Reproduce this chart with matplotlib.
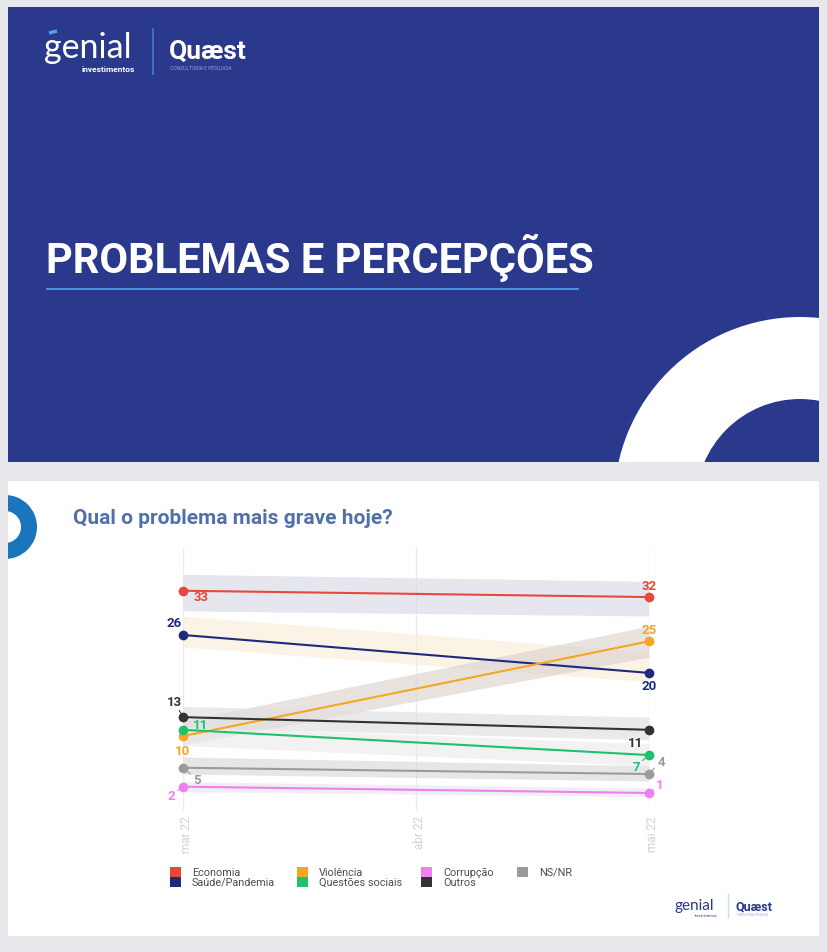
import numpy as np
import matplotlib
matplotlib.use("Agg")
import matplotlib.pyplot as plt
import matplotlib.transforms as mtransforms
from matplotlib.patches import Rectangle, Wedge

plt.rcParams['font.family'] = ['Roboto', 'DejaVu Sans']

# data
months = ['mar 22', 'abr 22', 'mai 22']
month_pos = [0, 1, 2]
poll_pos = [0, 2]

series = ['Economia', 'Saúde/Pandemia', 'Violência', 'Questões sociais',
          'Corrupção', 'Outros', 'NS/NR']
values_mar = [33, 26, 10, 11, 2, 13, 5]
values_mai = [32, 20, 25, 7, 1, 11, 4]
# shaded band (margin) around each line
band_lo_mar = [29.8, 24.1, 8.6, 8.5, 1.2, 11.4, 4.0]
band_hi_mar = [35.6, 29.0, 12.4, 11.6, 2.8, 14.7, 6.7]
band_lo_mai = [29.0, 18.6, 22.5, 5.3, 0.4, 9.4, 2.9]
band_hi_mai = [34.5, 23.3, 27.4, 8.8, 1.8, 13.0, 5.3]

line_colors = ['#e8473b', '#1f2a7c', '#f6a623', '#1ec26e', '#ee80ef', '#333333', '#9b9b9b']
band_colors = ['#d9dbe6', '#f9eed9', '#dcd4ce', '#ebebeb', '#e9e7ee', '#e0e0e0', '#d9d9d9']

# label offsets in pixels (dx, dy) and whether a leader line is drawn
offs_mar = [(18, -6), (-9, 12), (0, -14), (18, 5), (-12, -9), (-9, 16), (14, -12)]
offs_mai = [(0, 12), (0, -13), (0, 12), (-13, -11), (11, 8), (-13, -13), (12, 13)]
lead_mar = [False, False, False, False, True, True, True]
lead_mai = [False, False, False, True, True, False, True]

W, H = 828, 953
fig = plt.figure(figsize=(W / 100, H / 100), dpi=100)
fig.patch.set_facecolor('#e8e8ec')

bg = fig.add_axes([0, 0, 1, 1])
bg.set_xlim(0, W)
bg.set_ylim(H, 0)
bg.axis('off')

navy = '#2b398c'

# top slide
top = Rectangle((8, 8), 811, 455, facecolor=navy, edgecolor='none', zorder=1)
bg.add_patch(top)
ring = Wedge((800, 504), 186, 0, 360, width=82, facecolor='white', edgecolor='none', zorder=2)
bg.add_patch(ring)
ring.set_clip_path(top)

bg.text(44, 58, 'genial', fontsize=24.5, color='white', family='Lato', va='baseline', zorder=3)
bg.plot([49, 57], [34, 32], color='#4aa3e8', lw=2.5, solid_capstyle='butt', zorder=3)
bg.text(135, 72, 'investimentos', fontsize=6.0, color='white', fontweight='bold',
        ha='right', va='baseline', zorder=3)
bg.plot([153, 153], [30, 75], color='#3f7fd0', lw=1.2, zorder=3)
bg.text(169, 59, 'Quæst', fontsize=19, color='white', fontweight='bold', va='baseline', zorder=3)
bg.text(170, 69, 'CONSULTORIA E PESQUISA', fontsize=3.6, color='#8fa3d6', va='baseline', zorder=3)

bg.text(46, 273, 'PROBLEMAS E PERCEPÇÕES', fontsize=30, color='white', fontweight='bold',
        va='baseline', zorder=3)
bg.plot([47, 578], [290, 290], color='#4da3f0', lw=1.2, zorder=3)

# bottom slide
bot = Rectangle((8, 482), 811, 455, facecolor='white', edgecolor='none', zorder=1)
bg.add_patch(bot)
dot = Wedge((5, 528), 32, 0, 360, width=16, facecolor='#1b75bc', edgecolor='none', zorder=2)
bg.add_patch(dot)
dot.set_clip_path(bot)

bg.text(73, 524, 'Qual o problema mais grave hoje?', fontsize=15, color='#4f70aa',
        fontweight='bold', va='baseline', zorder=3)

# legend
leg_x = [170, 297, 421, 517]
leg_y = [873, 883]
for i, (name, c) in enumerate(zip(series, line_colors)):
    col, row = i // 2, i % 2
    x, y = leg_x[col], leg_y[row]
    bg.add_patch(Rectangle((x, y - 5), 11, 10, facecolor=c, edgecolor='none', zorder=3))
    bg.text(x + 22, y, name, fontsize=7.8, color='#4d4d4d',
            va='center', zorder=3)

# small logos bottom right
bg.text(675, 910, 'genial', fontsize=11, color=navy, family='Lato', va='baseline', zorder=3)
bg.text(718, 917, 'investimentos', fontsize=2.6, color=navy, ha='right', va='baseline', zorder=3)
bg.plot([728, 728], [895, 918], color='#c8dcf2', lw=1, zorder=3)
bg.text(736, 910, 'Quæst', fontsize=9, color=navy, fontweight='bold', va='baseline', zorder=3)
bg.text(737, 916, 'CONSULTORIA E PESQUISA', fontsize=1.8, color='#8fa3d6', va='baseline', zorder=3)

# chart
x0, x1, ytop, ybot = 183, 649, 548, 812
ax = fig.add_axes([x0 / W, 1 - ybot / H, (x1 - x0) / W, (ybot - ytop) / H])
ax.set_xlim(0, 2)
ax.set_ylim(-1.85, 39.92)
ax.patch.set_alpha(0)
for s in ax.spines.values():
    s.set_visible(False)
ax.set_yticks([])
ax.set_xticks(month_pos)
ax.set_xticklabels(months, rotation=90, color='#d2d2d2', fontsize=8.5, va='top')
ax.tick_params(axis='x', length=0, pad=3)
shift = mtransforms.ScaledTranslation(4 / 100, 0, fig.dpi_scale_trans)
for lab in ax.get_xticklabels():
    lab.set_transform(lab.get_transform() + shift)
ax.grid(axis='x', color='#ececec', lw=1)
ax.set_axisbelow(True)

for i in range(len(series)):
    ax.fill_between(poll_pos, [band_lo_mar[i], band_lo_mai[i]], [band_hi_mar[i], band_hi_mai[i]],
                    color=band_colors[i], alpha=0.65, lw=0, zorder=1, clip_on=False)

for i in range(len(series)):
    c = line_colors[i]
    yv = [values_mar[i], values_mai[i]]
    ax.plot(poll_pos, yv, color=c, lw=1.5, marker='o', ms=6, zorder=3 + i * 0.01, clip_on=False)
    for xp, v, off, lead in [(0, values_mar[i], offs_mar[i], lead_mar[i]),
                             (2, values_mai[i], offs_mai[i], lead_mai[i])]:
        ap = dict(arrowstyle='-', color=c, lw=0.8, shrinkA=0, shrinkB=0) if lead else None
        ax.annotate(str(v), xy=(xp, v), xytext=off, textcoords='offset pixels',
                    ha='center', va='center', fontsize=9.5, fontweight='bold', color=c,
                    arrowprops=ap, zorder=5, annotation_clip=False)

fig.savefig('out.png', dpi=100, facecolor=fig.get_facecolor())
